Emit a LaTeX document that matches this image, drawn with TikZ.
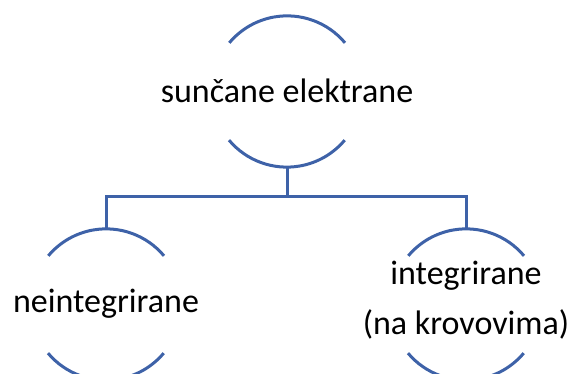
\documentclass[tikz,border=0pt]{standalone}
\usepackage{fontspec}
\setmainfont{Carlito}
\definecolor{arcblue}{RGB}{62,98,168}
\begin{document}
\begin{tikzpicture}[x=1pt,y=1pt,
  ring/.style={circle, draw=none, minimum size=151pt, inner sep=0pt},
  lbl/.style={font=\fontsize{34}{40}\selectfont, text=black, inner sep=0pt, anchor=base},
  arcline/.style={draw=arcblue, line width=3pt},
  conn/.style={draw=arcblue, line width=3pt}]
\useasboundingbox (0,0) rectangle (573,374);
% circles (only arcs are drawn)
\node[ring] (top) at (287,282.5) {};
\node[ring] (left) at (106,69.5) {};
\node[ring] (right) at (466,69.5) {};
\foreach \n in {top,left,right}{
  \draw[arcline] (\n.40) arc[start angle=40, end angle=140, radius=75.5pt];
  \draw[arcline] (\n.220) arc[start angle=220, end angle=320, radius=75.5pt];
}
% connectors
\coordinate (bus) at (287,177);
\draw[conn] (top.south) -- (bus) -| (left.north);
\draw[conn] (bus) -| (right.north);
% labels
\node[lbl] (ttop) at (287,271) {sunčane elektrane};
\node[lbl] (tleft) at (106,61) {neintegrirane};
\node[lbl] (tright1) at (466,89) {integrirane};
\node[lbl] (tright2) at (466,39) {(na krovovima)};
\end{tikzpicture}
\end{document}
